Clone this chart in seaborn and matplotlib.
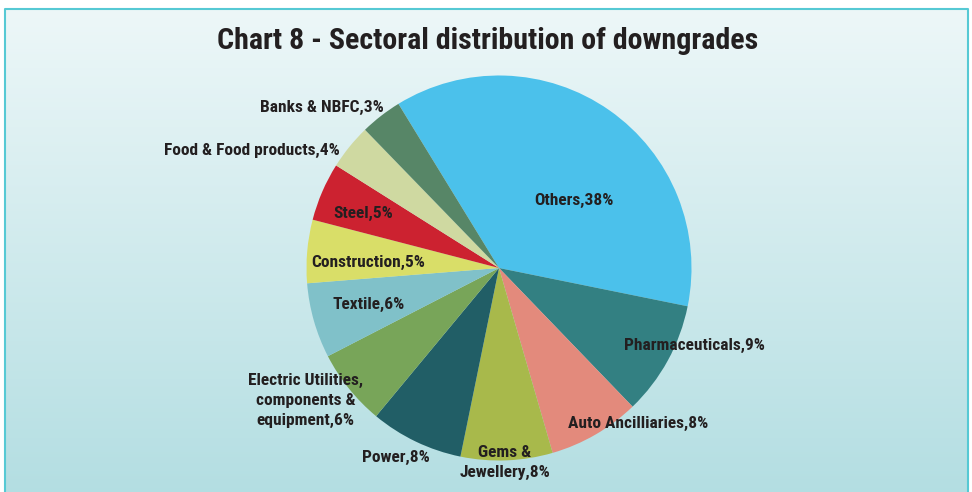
import numpy as np
import matplotlib
matplotlib.use("Agg")
import matplotlib.pyplot as plt
import seaborn as sns
from matplotlib.patches import Rectangle

sns.set_theme(style="white")
plt.rcParams['font.family'] = ['Roboto Condensed', 'DejaVu Sans']

# ---- data ----
sectors = ["Others", "Pharmaceuticals", "Auto Ancilliaries", "Gems &\nJewellery",
           "Power", "Electric Utilities,\ncomponents &\nequipment", "Textile",
           "Construction", "Steel", "Food & Food products", "Banks & NBFC"]
label_pct = [38, 9, 8, 8, 8, 6, 6, 5, 5, 4, 3]
shares = [36.9, 9.6, 7.7, 7.7, 7.8, 6.4, 6.3, 5.3, 4.9, 3.8, 3.5]
colors = ["#4bc1eb", "#338082", "#e38a7c", "#a8b94b", "#215e66", "#78a559",
          "#80c1c9", "#d9de68", "#cc2230", "#cfd9a1", "#578667"]

# ---- layout (label anchors in pie-radius units) ----
label_xy = [(0.39, 0.35), (1.015, -0.405), (0.725, -0.81), (0.03, -1.01),
            (-0.535, -0.985), (-1.005, -0.69), (-0.675, -0.19), (-0.68, 0.027),
            (-0.705, 0.285), (-1.283, 0.613), (-0.922, 0.835)]

W, H = 972, 492
fig = plt.figure(figsize=(W / 100, H / 100), dpi=100)

# background gradient
bg = fig.add_axes([0, 0, 1, 1])
top = np.array([0xed, 0xf7, 0xf8]) / 255
bot = np.array([0xb3, 0xde, 0xe2]) / 255
t = np.linspace(0, 1, 256)[:, None]
grad = (top[None, :] * (1 - t) + bot[None, :] * t)[:, None, :]
grad = np.repeat(grad, 4, axis=1)
bg.add_patch(Rectangle((0, 0), W, H, facecolor='white', edgecolor='none', zorder=0))
bg.imshow(grad, aspect='auto', extent=[5, 968, -5, H - 9], origin='upper', zorder=1)
bg.plot([5, 5, 968, 968], [-5, H - 9, H - 9, -5], color="#56c9d4", lw=1.5, zorder=2)
bg.set_xlim(0, W)
bg.set_ylim(0, H)
bg.axis('off')

renderer = fig.canvas.get_renderer()


def fit(txt, target_px):
    fs = txt.get_fontsize()
    w = txt.get_window_extent(renderer).width
    txt.set_fontsize(fs * target_px / w)
    return fs * target_px / w


title = fig.text(488 / W, 1 - 41 / H, "Chart 8 - Sectoral distribution of downgrades",
                 ha='center', va='center', fontsize=19, fontweight='bold', color='#231f20')
fit(title, 543)

# pie axes
cx, cy, R = 499, 268, 192.5
ax = fig.add_axes([(cx - R) / W, (H - cy - R) / H, 2 * R / W, 2 * R / H])
ax.pie(shares, colors=colors, startangle=121.5, counterclock=False,
       wedgeprops=dict(linewidth=0))
ax.set_xlim(-1, 1)
ax.set_ylim(-1, 1)
ax.set_aspect('auto')
ax.axis('off')

probe = fig.text(0, 0, "Pharmaceuticals,9%", fontsize=12, fontweight='bold')
label_fs = fit(probe, 141)
probe.remove()

for name, p, (x, y) in zip(sectors, label_pct, label_xy):
    ax.text(x, y, f"{name},{p}%", ha='center', va='center', fontsize=label_fs,
            fontweight='bold', color='#231f20', linespacing=1.42,
            multialignment='center', clip_on=False)

fig.savefig("out.png", dpi=100)
